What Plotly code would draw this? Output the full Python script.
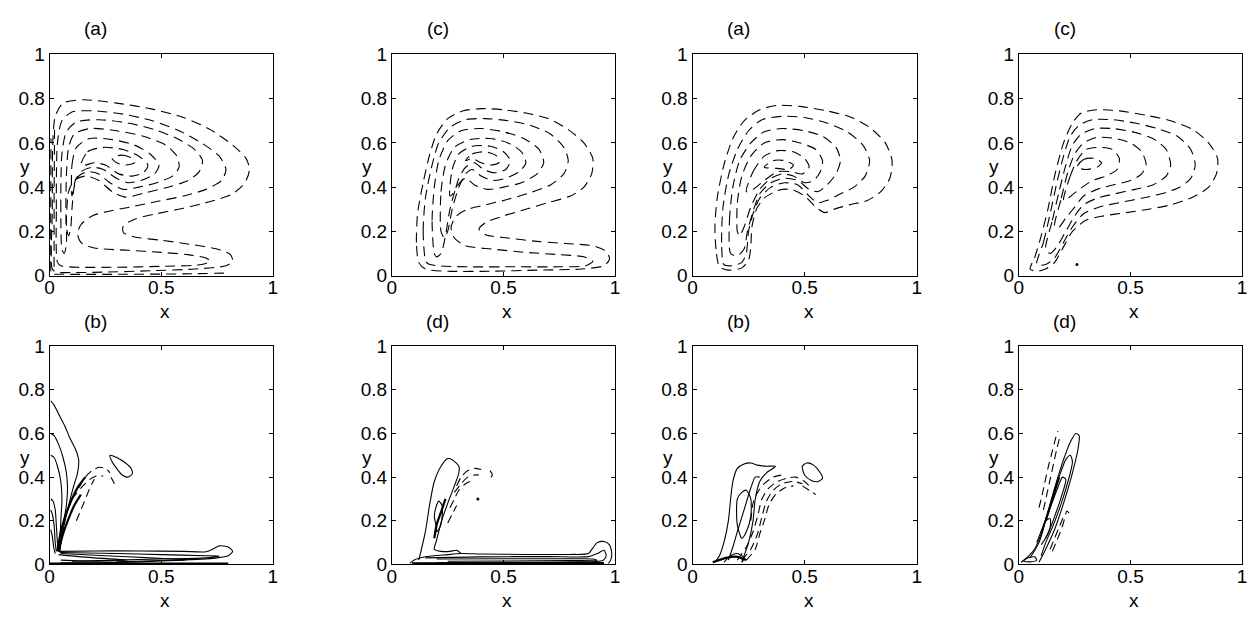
import plotly.graph_objects as go

# ---------------- data: contour curves (x, y in panel units) ----------------
# Panel 1 (top, col 1) "(a)" : dashed stream-function contours
tl_1 = [(0.012,0.03),(0.012,0.3),(0.014,0.6),(0.025,0.72),(0.06,0.78),(0.15,0.795),(0.3,0.78),(0.45,0.755),(0.6,0.715),(0.72,0.66),(0.82,0.59),(0.88,0.53),(0.895,0.48),(0.875,0.42),(0.82,0.37),(0.72,0.335),(0.6,0.305),(0.48,0.28),(0.38,0.255),(0.33,0.225),(0.33,0.195),(0.38,0.175),(0.5,0.16),(0.64,0.14),(0.75,0.12),(0.81,0.095),(0.82,0.065),(0.79,0.045),(0.65,0.03),(0.45,0.022),(0.25,0.016),(0.1,0.014),(0.03,0.016),(0.012,0.03)]
tl_2 = [(0.035,0.06),(0.03,0.3),(0.035,0.6),(0.055,0.7),(0.1,0.74),(0.2,0.745),(0.33,0.73),(0.46,0.7),(0.58,0.655),(0.68,0.6),(0.76,0.54),(0.79,0.48),(0.77,0.43),(0.7,0.39),(0.6,0.36),(0.48,0.335),(0.36,0.31),(0.26,0.29),(0.19,0.27),(0.14,0.23),(0.125,0.19),(0.14,0.15),(0.2,0.125),(0.35,0.115),(0.5,0.105),(0.62,0.095),(0.7,0.08),(0.72,0.065),(0.68,0.05),(0.5,0.042),(0.3,0.038),(0.12,0.038),(0.05,0.045),(0.035,0.06)]
tl_3 = [(0.055,0.12),(0.05,0.3),(0.055,0.55),(0.075,0.65),(0.12,0.695),(0.22,0.705),(0.35,0.69),(0.47,0.66),(0.57,0.62),(0.65,0.57),(0.685,0.52),(0.67,0.47),(0.62,0.43),(0.53,0.4),(0.43,0.375),(0.34,0.355),(0.28,0.38),(0.22,0.43),(0.16,0.45),(0.11,0.43),(0.085,0.38),(0.075,0.25),(0.075,0.14),(0.065,0.1),(0.055,0.12)]
tl_4 = [(0.075,0.22),(0.075,0.45),(0.085,0.58),(0.11,0.64),(0.18,0.665),(0.3,0.655),(0.42,0.63),(0.52,0.59),(0.57,0.54),(0.58,0.49),(0.55,0.45),(0.48,0.42),(0.4,0.4),(0.33,0.39),(0.27,0.42),(0.22,0.46),(0.17,0.47),(0.13,0.45),(0.11,0.4),(0.1,0.3),(0.095,0.22),(0.085,0.18),(0.075,0.22)]
tl_5 = [(0.1,0.36),(0.1,0.5),(0.12,0.58),(0.18,0.62),(0.28,0.615),(0.38,0.59),(0.45,0.55),(0.49,0.5),(0.47,0.46),(0.41,0.43),(0.35,0.42),(0.3,0.44),(0.24,0.48),(0.19,0.49),(0.14,0.47),(0.115,0.43),(0.1,0.36)]
tl_6 = [(0.14,0.5),(0.17,0.56),(0.24,0.58),(0.33,0.57),(0.4,0.54),(0.44,0.5),(0.42,0.465),(0.37,0.45),(0.31,0.46),(0.25,0.5),(0.2,0.51),(0.16,0.5),(0.14,0.5)]
tl_7 = [(0.28,0.53),(0.32,0.545),(0.37,0.53),(0.38,0.51),(0.34,0.5),(0.3,0.51),(0.28,0.53)]
tl_w1 = [(0.005,0.02),(0.005,0.3),(0.006,0.62)]
tl_w2 = [(0.02,0.04),(0.02,0.35),(0.022,0.66)]
tl_b1 = [(0.02,0.006),(0.3,0.006),(0.6,0.008),(0.8,0.012)]

# Panel 2 (top, col 2) "(c)"
tc_1 = [(0.12,0.06),(0.11,0.15),(0.115,0.28),(0.14,0.42),(0.17,0.55),(0.2,0.64),(0.25,0.71),(0.32,0.745),(0.4,0.755),(0.5,0.75),(0.6,0.735),(0.7,0.71),(0.79,0.66),(0.86,0.6),(0.9,0.53),(0.895,0.46),(0.86,0.4),(0.8,0.36),(0.7,0.33),(0.6,0.3),(0.5,0.27),(0.42,0.24),(0.39,0.21),(0.42,0.185),(0.52,0.17),(0.65,0.155),(0.78,0.145),(0.9,0.135),(0.96,0.11),(0.975,0.075),(0.95,0.045),(0.85,0.03),(0.65,0.025),(0.45,0.02),(0.25,0.02),(0.15,0.03),(0.12,0.06)]
tc_2 = [(0.15,0.07),(0.14,0.2),(0.15,0.35),(0.18,0.5),(0.21,0.6),(0.26,0.67),(0.33,0.705),(0.42,0.71),(0.52,0.7),(0.62,0.68),(0.71,0.64),(0.77,0.58),(0.79,0.52),(0.77,0.46),(0.71,0.41),(0.62,0.375),(0.52,0.345),(0.42,0.32),(0.34,0.3),(0.29,0.27),(0.265,0.22),(0.28,0.17),(0.33,0.135),(0.45,0.12),(0.6,0.105),(0.75,0.095),(0.86,0.085),(0.9,0.065),(0.87,0.045),(0.75,0.04),(0.55,0.04),(0.35,0.04),(0.2,0.045),(0.16,0.055),(0.15,0.07)]
tc_3 = [(0.19,0.1),(0.18,0.25),(0.19,0.4),(0.21,0.52),(0.25,0.61),(0.31,0.655),(0.4,0.665),(0.5,0.65),(0.59,0.62),(0.66,0.57),(0.68,0.51),(0.65,0.46),(0.58,0.42),(0.5,0.4),(0.43,0.39),(0.37,0.41),(0.33,0.44),(0.29,0.4),(0.26,0.3),(0.24,0.18),(0.22,0.1),(0.2,0.085),(0.19,0.1)]
tc_4 = [(0.22,0.2),(0.22,0.38),(0.24,0.5),(0.28,0.58),(0.35,0.615),(0.44,0.62),(0.52,0.6),(0.58,0.56),(0.6,0.51),(0.57,0.47),(0.51,0.44),(0.45,0.43),(0.4,0.45),(0.36,0.48),(0.33,0.46),(0.3,0.4),(0.27,0.3),(0.25,0.2),(0.235,0.17),(0.22,0.2)]
tc_5 = [(0.26,0.36),(0.27,0.48),(0.3,0.55),(0.36,0.585),(0.44,0.585),(0.5,0.56),(0.53,0.52),(0.51,0.48),(0.46,0.465),(0.41,0.48),(0.37,0.51),(0.33,0.49),(0.3,0.44),(0.28,0.38),(0.26,0.36)]
tc_6 = [(0.33,0.52),(0.36,0.55),(0.42,0.56),(0.47,0.54),(0.48,0.51),(0.44,0.5),(0.4,0.51),(0.36,0.53),(0.33,0.52)]

# Panel 3 (top, col 3) "(a)"
ta_1 = [(0.12,0.04),(0.105,0.12),(0.1,0.22),(0.11,0.35),(0.14,0.5),(0.18,0.62),(0.23,0.7),(0.3,0.75),(0.38,0.77),(0.48,0.765),(0.6,0.745),(0.71,0.715),(0.79,0.67),(0.86,0.6),(0.89,0.52),(0.88,0.44),(0.84,0.38),(0.78,0.34),(0.7,0.32),(0.63,0.3),(0.59,0.285),(0.55,0.31),(0.5,0.36),(0.44,0.39),(0.38,0.385),(0.32,0.35),(0.285,0.3),(0.265,0.22),(0.26,0.13),(0.25,0.07),(0.22,0.035),(0.16,0.025),(0.12,0.04)]
ta_2 = [(0.14,0.05),(0.13,0.15),(0.135,0.3),(0.16,0.45),(0.2,0.57),(0.25,0.655),(0.31,0.705),(0.4,0.72),(0.5,0.715),(0.6,0.69),(0.69,0.65),(0.76,0.59),(0.79,0.52),(0.77,0.45),(0.72,0.4),(0.66,0.37),(0.6,0.34),(0.56,0.33),(0.52,0.36),(0.47,0.41),(0.41,0.42),(0.35,0.4),(0.3,0.35),(0.27,0.28),(0.25,0.2),(0.24,0.1),(0.22,0.06),(0.18,0.045),(0.14,0.05)]
ta_3 = [(0.17,0.1),(0.165,0.25),(0.18,0.4),(0.21,0.52),(0.26,0.6),(0.32,0.65),(0.4,0.665),(0.5,0.655),(0.58,0.63),(0.64,0.58),(0.66,0.52),(0.64,0.46),(0.6,0.41),(0.56,0.38),(0.52,0.39),(0.47,0.43),(0.41,0.44),(0.35,0.42),(0.3,0.37),(0.27,0.29),(0.245,0.2),(0.23,0.12),(0.2,0.09),(0.17,0.1)]
ta_4 = [(0.2,0.2),(0.2,0.33),(0.22,0.45),(0.26,0.54),(0.32,0.6),(0.4,0.615),(0.48,0.6),(0.55,0.57),(0.58,0.52),(0.57,0.47),(0.54,0.43),(0.5,0.42),(0.45,0.45),(0.4,0.46),(0.35,0.44),(0.3,0.39),(0.26,0.31),(0.23,0.22),(0.21,0.18),(0.2,0.2)]
ta_5 = [(0.24,0.38),(0.27,0.47),(0.32,0.54),(0.38,0.565),(0.45,0.56),(0.5,0.53),(0.52,0.49),(0.49,0.46),(0.44,0.47),(0.38,0.47),(0.32,0.43),(0.27,0.39),(0.24,0.38)]
ta_6 = [(0.32,0.49),(0.36,0.52),(0.41,0.52),(0.45,0.5),(0.43,0.48),(0.38,0.485),(0.32,0.49)]

# Panel 4 (top, col 4) "(c)"
tq_1 = [(0.05,0.03),(0.07,0.08),(0.1,0.18),(0.13,0.3),(0.16,0.45),(0.2,0.6),(0.24,0.69),(0.28,0.735),(0.35,0.75),(0.45,0.745),(0.57,0.725),(0.68,0.7),(0.78,0.66),(0.85,0.6),(0.89,0.53),(0.885,0.46),(0.85,0.4),(0.78,0.355),(0.68,0.32),(0.58,0.3),(0.48,0.285),(0.38,0.27),(0.3,0.25),(0.24,0.2),(0.2,0.13),(0.16,0.06),(0.12,0.03),(0.08,0.02),(0.05,0.03)]
tq_2 = [(0.08,0.05),(0.11,0.15),(0.14,0.28),(0.17,0.42),(0.2,0.54),(0.23,0.63),(0.27,0.68),(0.33,0.705),(0.42,0.705),(0.52,0.69),(0.62,0.665),(0.71,0.63),(0.77,0.57),(0.79,0.5),(0.77,0.44),(0.72,0.4),(0.64,0.37),(0.55,0.35),(0.45,0.33),(0.36,0.31),(0.29,0.28),(0.24,0.22),(0.2,0.15),(0.16,0.08),(0.12,0.05),(0.08,0.05)]
tq_3 = [(0.12,0.12),(0.15,0.25),(0.18,0.38),(0.21,0.5),(0.24,0.59),(0.28,0.64),(0.34,0.665),(0.42,0.665),(0.51,0.65),(0.6,0.62),(0.66,0.57),(0.68,0.5),(0.66,0.45),(0.6,0.41),(0.52,0.39),(0.43,0.37),(0.35,0.35),(0.29,0.32),(0.25,0.27),(0.21,0.2),(0.17,0.13),(0.14,0.1),(0.12,0.12)]
tq_4 = [(0.16,0.22),(0.19,0.35),(0.22,0.47),(0.25,0.55),(0.29,0.6),(0.35,0.625),(0.43,0.62),(0.5,0.6),(0.55,0.56),(0.57,0.5),(0.55,0.46),(0.5,0.43),(0.42,0.41),(0.35,0.39),(0.29,0.36),(0.25,0.31),(0.21,0.26),(0.18,0.22),(0.16,0.22)]
tq_5 = [(0.2,0.34),(0.23,0.45),(0.26,0.52),(0.3,0.57),(0.36,0.58),(0.42,0.57),(0.45,0.53),(0.44,0.48),(0.39,0.45),(0.33,0.43),(0.27,0.39),(0.22,0.35),(0.2,0.34)]
tq_6 = [(0.26,0.49),(0.29,0.525),(0.34,0.53),(0.37,0.51),(0.35,0.49),(0.3,0.48),(0.26,0.49)]
tq_dot = [(0.26,0.05)]

# Panel 5 (bottom, col 1) "(b)"
bl_s1 = [(0.005,0.75),(0.02,0.73),(0.045,0.68),(0.07,0.63),(0.09,0.58),(0.115,0.53),(0.13,0.48),(0.125,0.42),(0.105,0.35),(0.085,0.27),(0.065,0.18),(0.05,0.1),(0.045,0.06)]
bl_s2 = [(0.005,0.6),(0.02,0.59),(0.04,0.55),(0.06,0.49),(0.075,0.42),(0.08,0.35),(0.075,0.27),(0.06,0.18),(0.05,0.1),(0.045,0.06)]
bl_s3 = [(0.005,0.5),(0.02,0.49),(0.035,0.45),(0.05,0.38),(0.055,0.3),(0.05,0.2),(0.045,0.1),(0.04,0.06)]
bl_s4 = [(0.005,0.3),(0.015,0.29),(0.025,0.25),(0.03,0.18),(0.035,0.1),(0.04,0.06)]
bl_s5 = [(0.005,0.25),(0.012,0.23),(0.02,0.18),(0.025,0.1),(0.03,0.06)]
bl_s6 = [(0.005,0.16),(0.012,0.13),(0.018,0.08),(0.025,0.05)]
bl_s7 = [(0.035,0.06),(0.05,0.15),(0.07,0.22),(0.1,0.3),(0.13,0.36),(0.16,0.4)]
bl_s8 = [(0.04,0.06),(0.06,0.14),(0.085,0.21),(0.11,0.27),(0.14,0.32)]
bl_s9 = [(0.27,0.5),(0.3,0.49),(0.34,0.465),(0.365,0.44),(0.37,0.415),(0.35,0.4),(0.325,0.41),(0.3,0.44),(0.28,0.47),(0.27,0.5)]
bl_t1 = [(0.04,0.06),(0.2,0.062),(0.4,0.062),(0.6,0.06),(0.7,0.058),(0.73,0.07),(0.76,0.085),(0.8,0.08),(0.82,0.06),(0.8,0.04),(0.75,0.03),(0.6,0.02),(0.4,0.012),(0.2,0.008),(0.05,0.008)]
bl_t2 = [(0.045,0.055),(0.3,0.05),(0.5,0.045),(0.7,0.04),(0.76,0.038),(0.7,0.03),(0.5,0.025),(0.3,0.02),(0.1,0.015)]
bl_t3 = [(0.05,0.05),(0.25,0.04),(0.45,0.03),(0.62,0.022),(0.5,0.018),(0.3,0.012)]
bl_t4 = [(0.04,0.045),(0.2,0.03),(0.35,0.02),(0.2,0.015),(0.05,0.02)]
bl_t5 = [(0.0,0.004),(0.4,0.004),(0.8,0.004)]
bl_d1 = [(0.13,0.35),(0.16,0.4),(0.19,0.43),(0.22,0.445),(0.25,0.44),(0.27,0.42)]
bl_d2 = [(0.1,0.3),(0.14,0.35),(0.18,0.39),(0.21,0.405),(0.24,0.405)]
bl_d3 = [(0.12,0.2),(0.14,0.25),(0.16,0.3),(0.18,0.35),(0.2,0.39)]
bl_d4 = [(0.275,0.4),(0.29,0.37)]

# Panel 6 (bottom, col 2) "(d)"
bd_s1 = [(0.12,0.02),(0.13,0.06),(0.15,0.15),(0.17,0.28),(0.19,0.38),(0.22,0.45),(0.25,0.485),(0.27,0.48),(0.3,0.45),(0.3,0.42),(0.28,0.36),(0.25,0.28),(0.22,0.19),(0.2,0.11),(0.19,0.07),(0.22,0.06),(0.26,0.06),(0.29,0.065),(0.31,0.05)]
bd_s2 = [(0.2,0.17),(0.19,0.22),(0.2,0.27),(0.21,0.29),(0.225,0.27),(0.225,0.22),(0.215,0.17),(0.2,0.15),(0.2,0.17)]
bd_s3 = [(0.19,0.12),(0.2,0.18),(0.22,0.24),(0.24,0.3)]
bd_d1 = [(0.29,0.36),(0.31,0.4),(0.34,0.43),(0.37,0.44),(0.4,0.435)]
bd_d2 = [(0.28,0.33),(0.31,0.37),(0.34,0.4),(0.37,0.41),(0.39,0.41)]
bd_d3 = [(0.26,0.26),(0.28,0.3),(0.3,0.34),(0.33,0.37),(0.36,0.385)]
bd_d4 = [(0.25,0.19),(0.27,0.23),(0.29,0.27)]
bd_d5 = [(0.44,0.43),(0.45,0.41),(0.44,0.395)]
bd_dot = [(0.385,0.3)]
bd_t1 = [(0.08,0.005),(0.1,0.02),(0.15,0.035),(0.25,0.045),(0.31,0.05),(0.4,0.048),(0.6,0.046),(0.8,0.046),(0.88,0.05),(0.9,0.075),(0.92,0.1),(0.95,0.105),(0.975,0.09),(0.985,0.05),(0.98,0.02),(0.97,0.005)]
bd_t2 = [(0.15,0.03),(0.4,0.035),(0.7,0.036),(0.88,0.036),(0.92,0.05),(0.95,0.065),(0.96,0.04),(0.945,0.018),(0.8,0.012),(0.5,0.01),(0.2,0.008)]
bd_t3 = [(0.2,0.025),(0.5,0.026),(0.8,0.026),(0.9,0.025),(0.92,0.018),(0.8,0.018),(0.5,0.016),(0.25,0.015)]
bd_t4 = [(0.09,0.005),(0.5,0.006),(0.95,0.006)]

# Panel 7 (bottom, col 3) "(b)"
bb_s1 = [(0.1,0.01),(0.12,0.04),(0.14,0.1),(0.16,0.2),(0.17,0.3),(0.18,0.38),(0.2,0.44),(0.23,0.46),(0.26,0.465),(0.29,0.455),(0.33,0.45),(0.37,0.45),(0.33,0.42),(0.3,0.38),(0.28,0.3),(0.27,0.2),(0.25,0.1),(0.23,0.04),(0.22,0.01)]
bb_s2 = [(0.2,0.3),(0.22,0.33),(0.24,0.34),(0.26,0.3),(0.26,0.22),(0.24,0.15),(0.22,0.12),(0.2,0.18),(0.2,0.3)]
bb_s3 = [(0.16,0.02),(0.18,0.08),(0.2,0.15),(0.23,0.25),(0.26,0.35),(0.28,0.4),(0.3,0.4)]
bb_s4 = [(0.14,0.01),(0.17,0.04),(0.2,0.05),(0.23,0.03),(0.22,0.01)]
bb_s5 = [(0.49,0.45),(0.51,0.465),(0.54,0.455),(0.57,0.42),(0.58,0.395),(0.56,0.38),(0.53,0.385),(0.5,0.41),(0.49,0.45)]
bb_s6 = [(0.09,0.01),(0.15,0.03),(0.2,0.035),(0.24,0.02)]
bb_d1 = [(0.2,0.02),(0.24,0.08),(0.27,0.15),(0.29,0.22),(0.31,0.3),(0.34,0.35),(0.38,0.38),(0.42,0.395),(0.46,0.4),(0.5,0.38),(0.53,0.35)]
bb_d2 = [(0.22,0.02),(0.26,0.07),(0.29,0.14),(0.31,0.22),(0.33,0.29),(0.36,0.34),(0.4,0.37),(0.45,0.38),(0.49,0.37)]
bb_d3 = [(0.24,0.02),(0.28,0.07),(0.3,0.14),(0.32,0.2),(0.34,0.27),(0.37,0.32),(0.41,0.35),(0.45,0.36)]
bb_d4 = [(0.49,0.36),(0.52,0.34),(0.55,0.32)]
bb_d5 = [(0.26,0.2),(0.27,0.28),(0.29,0.33),(0.32,0.37),(0.36,0.4),(0.4,0.41)]

# Panel 8 (bottom, col 4) "(d)"
bq_s1 = [(0.01,0.01),(0.04,0.035),(0.07,0.07),(0.1,0.14),(0.13,0.24),(0.16,0.35),(0.2,0.48),(0.23,0.56),(0.255,0.6),(0.27,0.59),(0.265,0.53),(0.24,0.42),(0.2,0.28),(0.16,0.16),(0.12,0.07),(0.09,0.01)]
bq_s2 = [(0.05,0.03),(0.09,0.1),(0.12,0.2),(0.15,0.3),(0.18,0.4),(0.21,0.48),(0.23,0.5),(0.24,0.47),(0.22,0.38),(0.19,0.28),(0.15,0.17),(0.12,0.1),(0.1,0.04)]
bq_s3 = [(0.08,0.1),(0.11,0.18),(0.14,0.26),(0.17,0.34),(0.195,0.4),(0.21,0.39),(0.19,0.31),(0.16,0.22),(0.13,0.14),(0.1,0.09)]
bq_s4 = [(0.1,0.14),(0.12,0.2),(0.14,0.21),(0.14,0.17),(0.12,0.12)]
bq_s5 = [(0.02,0.015),(0.04,0.03),(0.07,0.035),(0.08,0.02),(0.05,0.012),(0.02,0.015)]
bq_s6 = [(0.12,0.2),(0.15,0.3),(0.18,0.4)]
bq_d1 = [(0.09,0.26),(0.1,0.3),(0.115,0.37),(0.13,0.44),(0.15,0.52),(0.165,0.58),(0.175,0.61)]
bq_d2 = [(0.11,0.25),(0.125,0.32),(0.14,0.39),(0.155,0.46),(0.17,0.53),(0.185,0.59)]
bq_d3 = [(0.15,0.06),(0.17,0.11),(0.19,0.16),(0.205,0.21),(0.215,0.245),(0.225,0.235)]
bq_d4 = [(0.14,0.07),(0.16,0.12),(0.18,0.17),(0.2,0.22)]

panel_titles = ["(a)", "(c)", "(a)", "(c)", "(b)", "(d)", "(b)", "(d)"]
y_ticks = [0, 0.2, 0.4, 0.6, 0.8, 1]
y_tick_text = ["0", "0.2", "0.4", "0.6", "0.8", "1"]
x_ticks = [0, 0.5, 1]
x_tick_text = ["0", "0.5", "1"]

# curve groups per panel: (dashed curves, solid curves, thick curves, dots)
panels = [
    ([tl_1, tl_2, tl_3, tl_4, tl_5, tl_6, tl_7, tl_w1, tl_w2, tl_b1], [], [], []),
    ([tc_1, tc_2, tc_3, tc_4, tc_5, tc_6], [], [], []),
    ([ta_1, ta_2, ta_3, ta_4, ta_5, ta_6], [], [], []),
    ([tq_1, tq_2, tq_3, tq_4, tq_5, tq_6], [], [], [tq_dot]),
    ([bl_d1, bl_d2, bl_d3, bl_d4], [bl_s1, bl_s2, bl_s3, bl_s4, bl_s5, bl_s6, bl_s9, bl_t1, bl_t2, bl_t3, bl_t4], [bl_s7, bl_s8, bl_t5], []),
    ([bd_d1, bd_d2, bd_d3, bd_d4, bd_d5], [bd_s1, bd_s2, bd_t1, bd_t2, bd_t3], [bd_s3, bd_t4], [bd_dot]),
    ([bb_d1, bb_d2, bb_d3, bb_d4, bb_d5], [bb_s1, bb_s2, bb_s3, bb_s4, bb_s5], [bb_s6], []),
    ([bq_d1, bq_d2, bq_d3, bq_d4], [bq_s1, bq_s2, bq_s3, bq_s4, bq_s5], [bq_s6], []),
]

# ---------------- layout geometry (pixels) ----------------
W, H = 1260, 617
COLS = [(45, 270), (390, 615), (693, 919), (1022, 1247)]
ROWS = [(46, 275), (348, 574)]
FONT = "Liberation Sans, Arial, Helvetica, sans-serif"
FS = 19

fig = go.Figure()
layout = dict(width=W, height=H, margin=dict(l=0, r=0, t=0, b=0),
              paper_bgcolor="white", plot_bgcolor="white", showlegend=False,
              font=dict(family=FONT, size=FS, color="black"))
annotations = []

DASH_TOP = "10px,6px"
DASH_BOT = "8px,5px"

for i, (dashed, solid, thick, dots) in enumerate(panels):
    r, c = divmod(i, 4)
    x0, x1 = COLS[c]
    y0, y1 = ROWS[r]
    ax = "" if i == 0 else str(i + 1)
    xa, ya = "x" + ax, "y" + ax
    common = dict(range=[0, 1], showgrid=False, zeroline=False, showline=True,
                  linecolor="black", linewidth=1, mirror="ticks", ticks="inside",
                  ticklen=4, tickcolor="black", tickfont=dict(family=FONT, size=FS, color="black"),
                  fixedrange=True)
    layout["xaxis" + ax] = dict(common, domain=[x0 / W, x1 / W], anchor=ya,
                                tickvals=x_ticks, ticktext=x_tick_text, ticklabelstandoff=-5)
    layout["yaxis" + ax] = dict(common, domain=[1 - y1 / H, 1 - y0 / H], anchor=xa,
                                tickvals=y_ticks, ticktext=y_tick_text)
    dash = DASH_TOP if r == 0 else DASH_BOT
    for group, st in ((dashed, dict(width=1.1, dash=dash)),
                      (solid, dict(width=1.1, dash="solid")),
                      (thick, dict(width=2.2, dash="solid"))):
        for cur in group:
            fig.add_trace(go.Scatter(
                x=[p[0] for p in cur], y=[p[1] for p in cur], mode="lines",
                line=dict(color="black", shape="spline", smoothing=0.7, **st),
                xaxis=xa, yaxis=ya, hoverinfo="skip"))
    for cur in dots:
        fig.add_trace(go.Scatter(x=[p[0] for p in cur], y=[p[1] for p in cur], mode="markers",
                                 marker=dict(color="black", size=3), xaxis=xa, yaxis=ya,
                                 hoverinfo="skip"))
    annotations.append(dict(text=panel_titles[i], x=(x0 + 46) / W, y=1 - (19 if r == 0 else 322) / H,
                            xref="paper", yref="paper", showarrow=False, xanchor="center",
                            yanchor="middle", font=dict(family=FONT, size=FS)))
    annotations.append(dict(text="y", x=(x0 - 32) / W, y=1 - ((y0 + y1) / 2 + 2) / H,
                            xref="paper", yref="paper", showarrow=False, xanchor="left",
                            yanchor="middle", font=dict(family=FONT, size=FS)))
    annotations.append(dict(text="x", x=((x0 + x1) / 2 + 4) / W, y=1 - (y1 + 24) / H,
                            xref="paper", yref="paper", showarrow=False, xanchor="center",
                            yanchor="top", font=dict(family=FONT, size=FS)))

layout["annotations"] = annotations
fig.update_layout(**layout)
fig.write_html("out.html", config=dict(displayModeBar=False, staticPlot=True),
               post_script="document.body.style.margin='0px';document.body.style.overflow='hidden';")
